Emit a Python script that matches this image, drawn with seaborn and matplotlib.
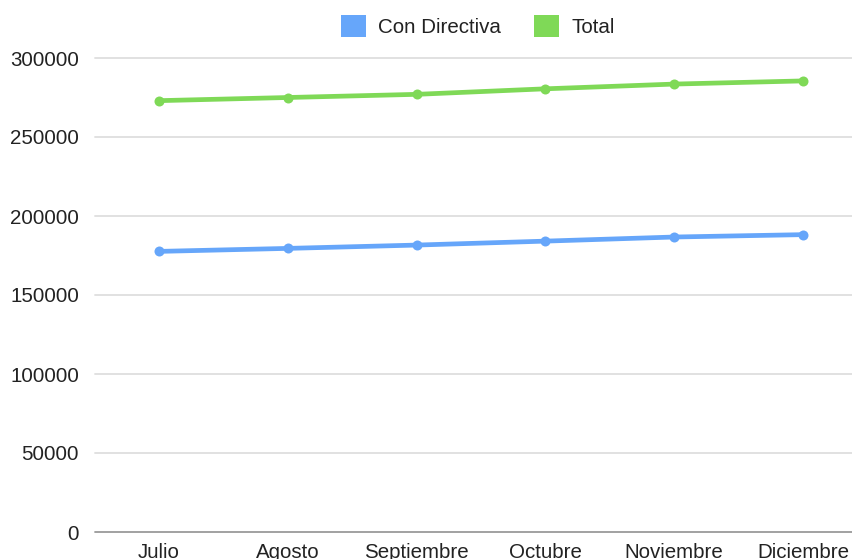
import matplotlib
matplotlib.use("Agg")
import matplotlib.pyplot as plt
from matplotlib.patches import Patch
import seaborn as sns
import pandas as pd

months = ["Julio", "Agosto", "Septiembre", "Octubre", "Noviembre", "Diciembre"]
con_directiva = [177600, 179500, 181600, 184100, 186700, 188200]
total = [273000, 275000, 277000, 280500, 283500, 285500]
series_names = ["Con Directiva", "Total"]
yticks = [0, 50000, 100000, 150000, 200000, 250000, 300000]

blue = "#66a6fa"
green = "#7fd957"

sns.set_theme(style="white")
plt.rcParams["font.family"] = ["Liberation Sans", "DejaVu Sans"]

df = pd.DataFrame({
    "mes": months * 2,
    "idx": list(range(len(months))) * 2,
    "valor": con_directiva + total,
    "serie": [series_names[0]] * len(months) + [series_names[1]] * len(months),
})

W, H = 853, 559
left, right, top, bottom = 95, 853, 58, 532
fig = plt.figure(figsize=(W / 100, H / 100), dpi=100)
ax = fig.add_axes([left / W, 1 - bottom / H, (right - left) / W, (bottom - top) / H])

sns.lineplot(data=df, x="idx", y="valor", hue="serie", hue_order=series_names,
             palette=[blue, green], marker="o", markersize=7.2, markeredgewidth=0,
             linewidth=3.4, ax=ax, legend=False, clip_on=False, zorder=3)

ax.set_xlim(-0.497, 5.388)
ax.set_ylim(0, 300000)
ax.set_yticks(yticks)
ax.set_yticklabels([str(v) for v in yticks])
ax.set_xticks(range(len(months)))
ax.set_xticklabels(months)
ax.set_xlabel("")
ax.set_ylabel("")

for v in yticks[1:]:
    ax.axhline(v, color="#dedede", linewidth=1.3, zorder=1, clip_on=False)
ax.axhline(0, color="#9a9a9a", linewidth=1.3, zorder=2, clip_on=False)

for s in ax.spines.values():
    s.set_visible(False)
ax.tick_params(axis="both", length=0, labelsize=14.8, labelcolor="#222222")
ax.tick_params(axis="y", pad=11.5)
ax.tick_params(axis="x", pad=8)

handles = [Patch(facecolor=blue, edgecolor="none"), Patch(facecolor=green, edgecolor="none")]
fig.legend(handles, series_names, loc="center", bbox_to_anchor=(477.5 / W, 1 - 26 / H),
           ncol=2, frameon=False, fontsize=14.8, handlelength=1.22, handleheight=1.22,
           handletextpad=0.6, columnspacing=1.6, labelcolor="#222222",
           borderpad=0, borderaxespad=0)

fig.savefig("out.png", dpi=100)
